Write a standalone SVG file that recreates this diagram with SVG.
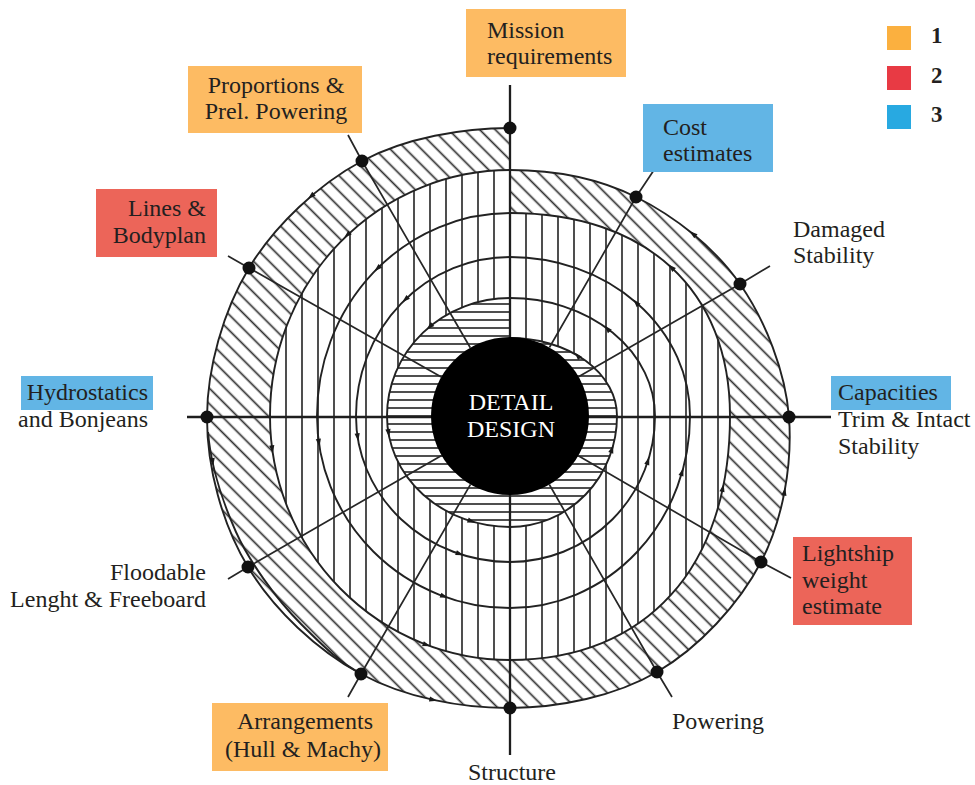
<svg xmlns="http://www.w3.org/2000/svg" xmlns:xlink="http://www.w3.org/1999/xlink" width="975" height="785" viewBox="0 0 975 785">
<defs>
<style>
.hl{stroke:#2f2f2f;stroke-width:1.7;fill:none}
.sp{stroke:#222;stroke-width:1.9;fill:none}
.spoke{stroke:#262626;stroke-width:1.7;fill:none}
.axis{stroke:#1e1e1e;stroke-width:2.3;fill:none}
.dot{fill:#111}
.ar{fill:#1a1a1a}
.t{font-family:"Liberation Serif","Times New Roman",serif;font-size:24px;fill:#231f20}
.ct{font-family:"Liberation Serif","Times New Roman",serif;font-size:24px;fill:#fff;text-anchor:middle}
.lg{font-family:"Liberation Serif","Times New Roman",serif;font-size:23px;font-weight:bold;fill:#231f20}
.o{fill:#FDBB63}.r{fill:#EC6559}.b{fill:#62B5E5}
</style>
<pattern id="pd" width="11" height="11" patternUnits="userSpaceOnUse" patternTransform="rotate(45)">
<rect width="11" height="11" fill="#fff"/><line class="hl" x1="0" y1="5.5" x2="11" y2="5.5"/>
</pattern>
<pattern id="pv" x="6" y="0" width="16" height="16" patternUnits="userSpaceOnUse">
<rect width="16" height="16" fill="#fff"/><line class="hl" x1="8" y1="0" x2="8" y2="16"/>
</pattern>
<pattern id="ph" x="0" y="4" width="16" height="8" patternUnits="userSpaceOnUse">
<rect width="16" height="8" fill="#fff"/><line class="hl" x1="0" y1="4" x2="16" y2="4"/>
</pattern>
<path id="a" d="M4,0 L-4,-2.6 L-4,2.6 Z"/>
</defs>
<rect width="975" height="785" fill="#fff"/>

<g id="bands">
<path fill="url(#pd)" d="M510,170 C553.3,170 597.7,178 636,197 C674.3,216 714.5,247.2 740,284 C765.5,320.8 785.5,371.7 789,417 C792.5,464.3 783,519.7 761,562 C739,604.3 698.8,647.7 657,672 C615.2,696.3 559.3,707.7 510,708 C460.7,708.3 404.7,697.5 361,674 C317.3,650.5 273.7,609.7 248,567 C222.3,524.3 206.8,467.8 207,417 C207.2,368.2 223.2,310.8 249,268 C274.8,225.2 318.5,184.3 362,161 C405.5,137.7 463.3,128 510,128 Z"/>
<path fill="url(#pv)" d="M510,213 C646.4,213 730,290.1 730,416 C730,567.3 646.4,660 510,660 A240 244 0 0 1 270,416 A240 246 0 0 1 510,170 Z"/>
<path fill="url(#ph)" d="M510,338 A107 78 0 0 1 617,416 A107 111 0 0 1 510,527 A123 111 0 0 1 387,416 A123 118 0 0 1 510,298 Z"/>
</g>

<g id="spiral">
<path class="sp" d="M510,338 A107 78 0 0 1 617,416 A107 111 0 0 1 510,527 A123 111 0 0 1 387,416 A123 118 0 0 1 510,298 A145 118 0 0 1 655,416 A145 146 0 0 1 510,562 A154 146 0 0 1 356,416 A154 159 0 0 1 510,257 A180 159 0 0 1 690,416 A180 192 0 0 1 510,608 A193 192 0 0 1 317,416 A193 203 0 0 1 510,213 C646.4,213 730,290.1 730,416 C730,567.3 646.4,660 510,660 A240 244 0 0 1 270,416 A240 246 0 0 1 510,170 C553.3,170 597.7,178 636,197 C674.3,216 714.5,247.2 740,284 C765.5,320.8 785.5,371.7 789,417 C792.5,464.3 783,519.7 761,562 C739,604.3 698.8,647.7 657,672 C615.2,696.3 559.3,707.7 510,708 C460.7,708.3 404.7,697.5 361,674 C317.3,650.5 273.7,609.7 248,567 C222.3,524.3 206.8,467.8 207,417 C207.2,368.2 223.2,310.8 249,268 C274.8,225.2 318.5,184.3 362,161 C405.5,137.7 463.3,128 510,128"/>
<path class="sp" d="M208,432 C211,468 224,505 236,532 S275,598 301,624 S340,662 361,674"/>
</g>

<g id="connectors">
<line class="axis" x1="510" y1="85" x2="510" y2="755"/>
<line class="axis" x1="187" y1="417" x2="831" y2="417"/>
<polyline class="spoke" points="549.4,347.5 636,197 654,170"/>
<polyline class="spoke" points="578.5,376.7 740,284 770,266"/>
<polyline class="spoke" points="578.3,455.7 761,562 791,578"/>
<polyline class="spoke" points="549.3,484.5 657,672 672,697"/>
<polyline class="spoke" points="470.5,484.4 361,674 348,697"/>
<polyline class="spoke" points="441.6,455.4 248,567 228,579"/>
<polyline class="spoke" points="441.3,377 249,268 228,256"/>
<polyline class="spoke" points="470.3,347.7 362,161 348,135"/>
</g>

<g id="arrows" class="ar">
<use href="#a" transform="translate(577.3,355.4) rotate(228)"/>
<use href="#a" transform="translate(612,449.1) rotate(288)"/>
<use href="#a" transform="translate(471.6,521.4) rotate(20)"/>
<use href="#a" transform="translate(388.5,433.1) rotate(82)"/>
<use href="#a" transform="translate(429.6,326.7) rotate(138)"/>
<use href="#a" transform="translate(607.2,328.5) rotate(228)"/>
<use href="#a" transform="translate(648,460.8) rotate(288)"/>
<use href="#a" transform="translate(459.8,554) rotate(20)"/>
<use href="#a" transform="translate(357.7,437.4) rotate(82)"/>
<use href="#a" transform="translate(405.2,299.6) rotate(138)"/>
<use href="#a" transform="translate(636,302.5) rotate(228)"/>
<use href="#a" transform="translate(682.2,471.9) rotate(288)"/>
<use href="#a" transform="translate(444.3,596.5) rotate(20)"/>
<use href="#a" transform="translate(318.9,442.9) rotate(82)"/>
<use href="#a" transform="translate(377.3,268.6) rotate(138)"/>
<use href="#a" transform="translate(671.2,267.3) rotate(222.7)"/>
<use href="#a" transform="translate(722.8,487.9) rotate(281.9)"/>
<use href="#a" transform="translate(426.7,645) rotate(20)"/>
<use href="#a" transform="translate(272.3,449.4) rotate(82)"/>
<use href="#a" transform="translate(347.1,235.1) rotate(138)"/>
<use href="#a" transform="translate(692.8,233.8) rotate(219.3)"/>
<use href="#a" transform="translate(784.6,491.5) rotate(280.6)"/>
<use href="#a" transform="translate(433.4,699.9) rotate(12.3)"/>
<use href="#a" transform="translate(212.7,462) rotate(82)"/>
<use href="#a" transform="translate(310.9,196.4) rotate(139.5)"/>
</g>

<g id="dots" class="dot">
<circle cx="510" cy="128" r="6.5"/>
<circle cx="636" cy="197" r="6.5"/>
<circle cx="740" cy="284" r="6.5"/>
<circle cx="789" cy="417" r="6.5"/>
<circle cx="761" cy="562" r="6.5"/>
<circle cx="657" cy="672" r="6.5"/>
<circle cx="510" cy="708" r="6.5"/>
<circle cx="361" cy="674" r="6.5"/>
<circle cx="248" cy="567" r="6.5"/>
<circle cx="207" cy="417" r="6.5"/>
<circle cx="249" cy="268" r="6.5"/>
<circle cx="362" cy="161" r="6.5"/>
</g>

<g id="detail-design">
<circle cx="510" cy="416" r="79" fill="#000"/>
<text class="ct" x="511" y="410">DETAIL</text>
<text class="ct" x="511" y="437">DESIGN</text>
</g>

<g id="mission-requirements">
<rect class="o" x="466" y="9" width="160" height="68"/>
<text class="t" x="487" y="38">Mission</text>
<text class="t" x="487" y="64">requirements</text>
</g>
<g id="cost-estimates">
<rect class="b" x="643" y="104" width="130" height="68"/>
<text class="t" x="663" y="135">Cost</text>
<text class="t" x="663" y="161">estimates</text>
</g>
<g id="damaged-stability">
<text class="t" x="793" y="237">Damaged</text>
<text class="t" x="793" y="263">Stability</text>
</g>
<g id="capacities">
<rect class="b" x="831" y="376" width="120" height="34"/>
<text class="t" x="838" y="400">Capacities</text>
<text class="t" x="838" y="427">Trim &amp; Intact</text>
<text class="t" x="838" y="454">Stability</text>
</g>
<g id="lightship-weight">
<rect class="r" x="793" y="537" width="119" height="88"/>
<text class="t" x="802" y="561">Lightship</text>
<text class="t" x="802" y="588">weight</text>
<text class="t" x="802" y="614">estimate</text>
</g>
<g id="powering">
<text class="t" x="672" y="729">Powering</text>
</g>
<g id="structure">
<text class="t" x="468" y="780">Structure</text>
</g>
<g id="arrangements">
<rect class="o" x="212" y="703" width="176" height="68"/>
<text class="t" x="305" y="729" text-anchor="middle">Arrangements</text>
<text class="t" x="303" y="757" text-anchor="middle">(Hull &amp; Machy)</text>
</g>
<g id="floodable-length">
<text class="t" x="206" y="580" text-anchor="end">Floodable</text>
<text class="t" x="206" y="607" text-anchor="end">Lenght &amp; Freeboard</text>
</g>
<g id="hydrostatics">
<rect class="b" x="21" y="376" width="132" height="34"/>
<text class="t" x="148" y="400" text-anchor="end">Hydrostatics</text>
<text class="t" x="148" y="427" text-anchor="end">and Bonjeans</text>
</g>
<g id="lines-bodyplan">
<rect class="r" x="96" y="189" width="121" height="68"/>
<text class="t" x="206" y="216" text-anchor="end">Lines &amp;</text>
<text class="t" x="206" y="243" text-anchor="end">Bodyplan</text>
</g>
<g id="proportions">
<rect class="o" x="188" y="66" width="174" height="67"/>
<text class="t" x="276" y="93" text-anchor="middle">Proportions &amp;</text>
<text class="t" x="276" y="119" text-anchor="middle">Prel. Powering</text>
</g>

<g id="legend">
<rect x="887" y="26" width="24" height="24" fill="#FBB03F"/>
<rect x="887" y="66" width="24" height="24" fill="#E83A44"/>
<rect x="887" y="105" width="24" height="24" fill="#28A9E1"/>
<text class="lg" x="931" y="43">1</text>
<text class="lg" x="931" y="83">2</text>
<text class="lg" x="931" y="122">3</text>
</g>
</svg>
